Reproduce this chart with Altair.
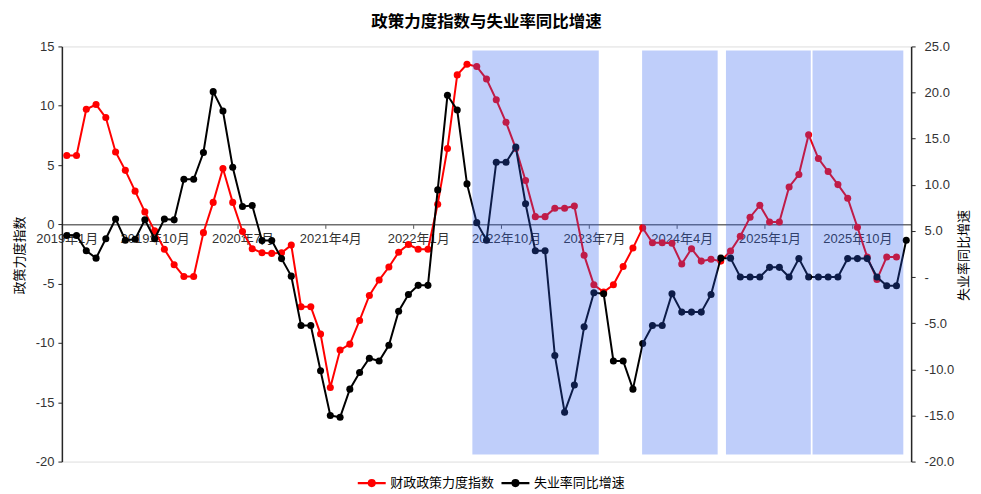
import json
import altair as alt
import pandas as pd

# ---------------- data ----------------
RED_NAME = "财政政策力度指数"
BLK_NAME = "失业率同比增速"

# 财政政策力度指数 (left axis), monthly from 2019-01
fiscal = [5.8, 5.8, 9.7, 10.1, 9.0, 6.1, 4.55, 2.8, 1.05, -0.55,
          -2.1, -3.4, -4.4, -4.4, -0.7, 1.85, 4.7, 1.85, -0.6, -2.05,
          -2.4, -2.45, -2.4, -1.75, -6.95, -6.95, -9.25, -13.75, -10.6, -10.1,
          -8.1, -6.0, -4.7, -3.6, -2.35, -1.7, -2.1, -2.1, 1.7, 6.4,
          12.6, 13.5, 13.3, 12.25, 10.5, 8.6, 6.4, 3.7, 0.65, 0.65,
          1.35, 1.35, 1.55, -2.6, -5.1, -5.7, -5.1, -3.55, -2.0, -0.3,
          -1.55, -1.55, -1.6, -3.35, -2.05, -3.1, -2.95, -3.1, -2.25, -1.0,
          0.6, 1.6, 0.2, 0.2, 3.15, 4.2, 7.55, 5.55, 4.45, 3.35,
          2.2, -0.25, -2.75, -4.65, -2.75, -2.75]

# 失业率同比增速 (right axis)
unemp = [4.5, 4.5, 2.85, 2.05, 4.15, 6.3, 4.0, 4.1, 6.2, 4.15,
         6.3, 6.2, 10.6, 10.6, 13.5, 20.1, 18.0, 11.9, 7.65, 7.75,
         3.95, 3.95, 2.0, 0.1, -5.25, -5.25, -10.15, -15.0, -15.2, -12.15,
         -10.35, -8.8, -9.1, -7.4, -3.7, -1.9, -0.9, -0.9, 9.45, 19.7,
         18.1, 10.1, 5.9, 4.0, 12.45, 12.45, 14.1, 7.95, 2.85, 2.85,
         -8.5, -14.65, -11.7, -5.4, -1.7, -1.8, -9.1, -9.1, -12.15, -7.2,
         -5.25, -5.25, -1.8, -3.8, -3.8, -3.8, -1.9, 2.05, 2.05, 0.0,
         0.0, 0.0, 1.05, 1.05, 0.0, 2.0, 0.0, 0.0, 0.0, 0.0,
         2.0, 2.0, 2.0, 0.0, -0.95, -0.95, 4.0]

tick_idx = [0, 9, 18, 27, 36, 45, 54, 63, 72, 81]
tick_labels = ["2019年1月", "2019年10月", "2020年7月", "2021年4月", "2022年1月",
               "2022年10月", "2023年7月", "2024年4月", "2025年1月", "2025年10月"]

# shaded periods (in month-index units)
shade_start = [41.55, 58.94, 67.53, 76.4]
shade_end = [54.5, 66.68, 76.22, 85.7]
shade_lo = [-19.4, -19.4, -19.4, -19.4]
shade_hi = [14.65, 14.65, 14.65, 14.65]

left_ticks = [-20, -15, -10, -5, 0, 5, 10, 15]
right_ticks = [-20, -15, -10, -5, 0, 5, 10, 15, 20, 25]

df_red = pd.DataFrame({"idx": list(range(len(fiscal))), "value": fiscal, "series": RED_NAME})
df_blk = pd.DataFrame({"idx": list(range(len(unemp))), "value": unemp, "series": BLK_NAME})
df_shade = pd.DataFrame({"s": shade_start, "e": shade_end, "lo": shade_lo, "hi": shade_hi})

# ---------------- styling ----------------
FONT = "Liberation Sans, Arial, Noto Sans CJK SC"
CJK = "Noto Sans CJK SC"
PW, PH = 851, 416
N = len(unemp)
half_band = PW / N / 2.0
zero_offset = -(PH * 20.0 / 35.0)

x_scale = alt.Scale(domain=[-0.5, N - 0.5], nice=False, zero=False)
x_axis = alt.Axis(
    values=tick_idx,
    labelExpr=json.dumps(tick_labels, ensure_ascii=False) + "[round(datum.value / 9)]",
    title=None, orient="bottom", offset=zero_offset,
    domainColor="#6e6e6e", domainWidth=1.5,
    tickColor="#555555", tickSize=4, tickWidth=1,
    tickOffset=-half_band, labelOffset=half_band,
    labelPadding=4, labelFont=FONT, labelFontSize=13, labelColor="#333333",
    labelAngle=0, labelOverlap=False, labelFlush=False, grid=False, zindex=0,
)

left_axis = alt.Axis(
    orient="left", values=left_ticks, labelExpr="toString(datum.value)",
    title="政策力度指数", titleFont=CJK, titleFontSize=13, titleFontWeight="normal",
    titleColor="#000000", titleX=-42, titleY=PH / 2 + 1, titleAngle=270,
    titleAlign="center", titleBaseline="middle",
    domainColor="#262626", domainWidth=1.5, tickColor="#262626", tickSize=4,
    labelPadding=4, labelFont=FONT, labelFontSize=13, labelColor="#333333",
    grid=False,
)

right_axis = alt.Axis(
    orient="right", values=right_ticks,
    labelExpr="datum.value == 0 ? '-' : (datum.value < 0 ? '-' : '') + format(abs(datum.value), '.1f')",
    title="失业率同比增速", titleFont=CJK, titleFontSize=13, titleFontWeight="normal",
    titleColor="#000000", titleX=52, titleY=PH / 2 + 1, titleAngle=270,
    titleAlign="center", titleBaseline="middle",
    domainColor="#262626", domainWidth=1.5, tickColor="#262626", tickSize=4,
    labelPadding=9, labelFont=FONT, labelFontSize=13, labelColor="#333333",
    grid=False,
)

# line with a solid dot (dot drawn as concentric stroked rings so it looks filled)
legend_symbol = ("M-1,0L1,0"
                 "M0.21,0A0.21,0.21,0,1,1,-0.21,0A0.21,0.21,0,1,1,0.21,0"
                 "M0.09,0A0.09,0.09,0,1,1,-0.09,0A0.09,0.09,0,1,1,0.09,0")
legend = alt.Legend(
    orient="none", legendX=295, legendY=422, direction="horizontal", title=None,
    symbolType=legend_symbol, symbolSize=784, symbolStrokeWidth=2.2, symbolOpacity=1,
    labelFont=CJK, labelFontSize=13, labelColor="#000000", labelOffset=3,
    columnPadding=2, padding=0,
)
color_scale = alt.Scale(domain=[RED_NAME, BLK_NAME], range=["#ff0000", "#000000"])
point_def = alt.OverlayMarkDef(filled=True, size=50, opacity=1)

red = alt.Chart(df_red).mark_line(strokeWidth=2, point=point_def).encode(
    x=alt.X("idx:Q", scale=x_scale, axis=x_axis),
    y=alt.Y("value:Q", scale=alt.Scale(domain=[-20, 15], nice=False, zero=False), axis=left_axis),
    color=alt.Color("series:N", scale=color_scale, legend=legend),
)

blk = alt.Chart(df_blk).mark_line(strokeWidth=2, point=point_def).encode(
    x=alt.X("idx:Q", scale=x_scale, axis=x_axis),
    y=alt.Y("value:Q", scale=alt.Scale(domain=[-20, 25], nice=False, zero=False), axis=right_axis),
    color=alt.Color("series:N", scale=color_scale, legend=legend),
)

shade = alt.Chart(df_shade).mark_rect(color="#2A5CEE", opacity=0.3).encode(
    x=alt.X("s:Q", scale=x_scale, axis=x_axis),
    x2="e:Q",
    y=alt.Y("lo:Q", scale=alt.Scale(domain=[-20, 15], nice=False, zero=False), axis=None),
    y2="hi:Q",
)

chart = (
    alt.layer(red, blk, shade)
    .resolve_scale(y="independent")
    .properties(
        width=PW, height=PH,
        padding={"left": 54, "top": 38, "right": 62, "bottom": 32},
        autosize=alt.AutoSizeParams(type="none"),
        title=alt.TitleParams(
            "政策力度指数与失业率同比增速", font=CJK, fontSize=16.5, fontWeight="bold",
            color="#000000", anchor="middle", offset=10,
        ),
    )
    .configure_view(stroke="#a0a0a0", strokeWidth=1.5)
    .configure(background="#ffffff")
)

chart.save("out.html", embed_options={"renderer": "svg", "actions": False})
